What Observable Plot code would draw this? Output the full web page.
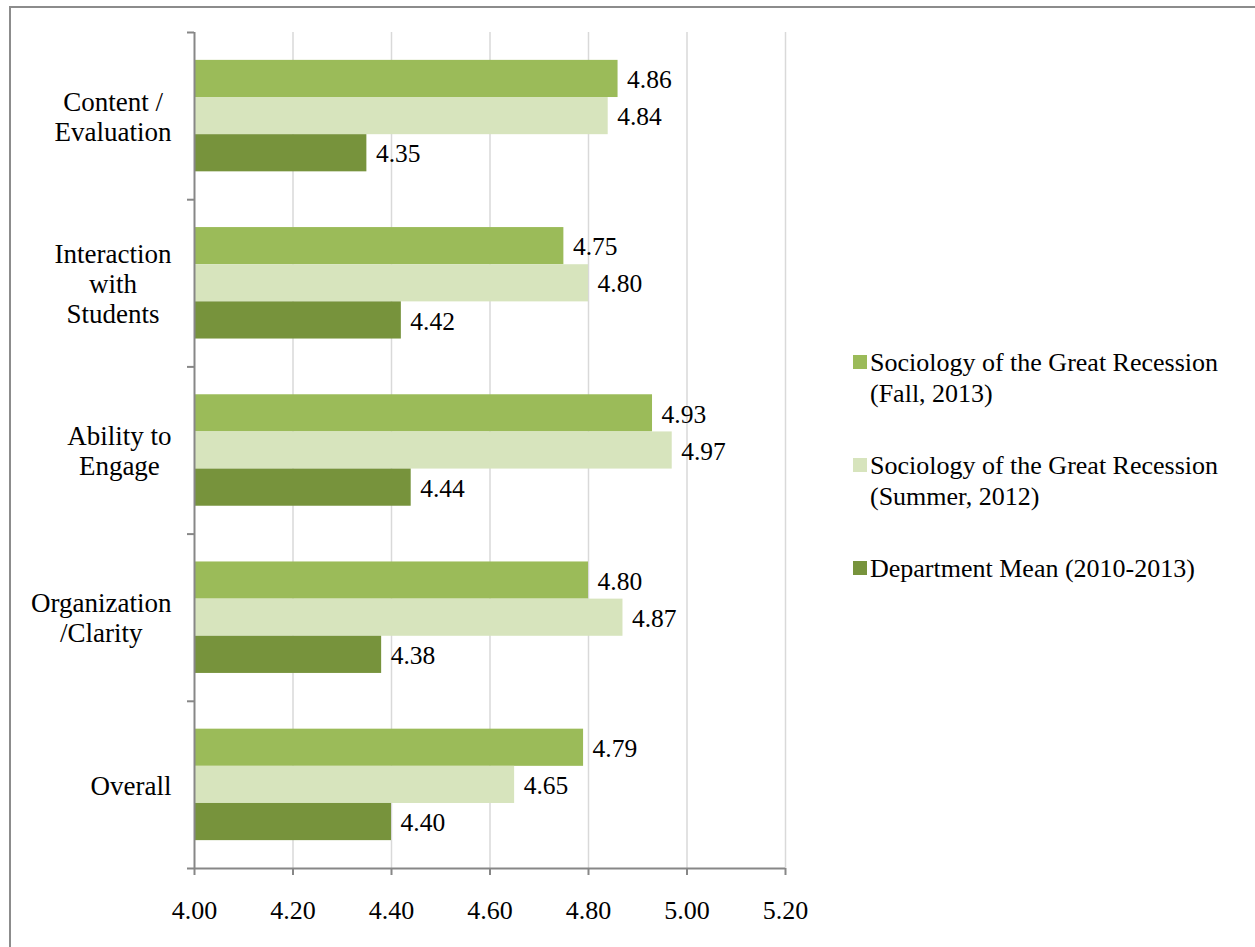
<!DOCTYPE html>
<html><head><meta charset="utf-8">
<script src="https://cdn.jsdelivr.net/npm/d3@7"></script>
<script src="https://cdn.jsdelivr.net/npm/@observablehq/plot@0.6"></script>
<style>
html,body{margin:0;padding:0;background:#fff;overflow:hidden}
#wrap{position:relative;width:1255px;height:947px;overflow:hidden;font-family:"Liberation Serif","Times New Roman",serif;}
#border{position:absolute;left:9px;top:6px;width:1400px;height:1100px;border:2px solid #8c8c8c;box-sizing:border-box}
#chart{position:absolute;left:0;top:0}
#legend{position:absolute;left:853px;top:347px;width:390px;}
.item{display:flex;align-items:flex-start;font-size:26px;line-height:31px;color:#000;margin-bottom:41px}
.sw{width:14px;height:14px;flex:none;margin-top:8px;margin-right:3px}
</style></head>
<body><div id="wrap"><div id="border"></div><div id="chart"></div><div id="legend"></div></div>
<script>
// ---- data ----
const categories = ["Content / Evaluation", "Interaction with Students", "Ability to Engage", "Organization /Clarity", "Overall"];
const categoryLines = [["Content /", "Evaluation"], ["Interaction", "with", "Students"], ["Ability to", "Engage"], ["Organization", "/Clarity"], ["Overall"]];
const seriesNames = ["Sociology of the Great Recession (Fall, 2013)", "Sociology of the Great Recession (Summer, 2012)", "Department Mean (2010-2013)"];
const seriesColors = ["#9bbb59", "#d7e4bd", "#77933c"];
const fall2013 = [4.86, 4.75, 4.93, 4.80, 4.79];
const summer2012 = [4.84, 4.80, 4.97, 4.87, 4.65];
const deptMean = [4.35, 4.42, 4.44, 4.38, 4.40];
const xTicks = [4.00, 4.20, 4.40, 4.60, 4.80, 5.00, 5.20];

// ---- layout of grouped bars inside each category band (band units) ----
const padOuter = 0.75; // outer gap of each group, in bar-heights
const nS = seriesNames.length;
const barUnit = 1 / (nS + 2 * padOuter);
const seriesValues = [fall2013, summer2012, deptMean];
const rows = categories.flatMap((c, i) => seriesNames.map((s, j) => ({
  category: c, series: s, value: seriesValues[j][i],
  y1: i + (padOuter + j) * barUnit, y2: i + (padOuter + j + 1) * barUnit
})));
const xDomain = [xTicks[0], xTicks[xTicks.length - 1]];
const bandEdges = d3.range(0, categories.length + 1);

// ---- style ----
const fontFamily = '"Liberation Serif", "Times New Roman", serif';
const axisColor = "#878787";
const gridColor = "#d9d9d9";
const catFont = 27, catLineH = 30, labelGap = 23;

const ctx = document.createElement("canvas").getContext("2d");
ctx.font = `${catFont}px "Liberation Serif"`;
const catLabelMarks = categoryLines.map((lines, i) => {
  const w = Math.max(...lines.map(l => ctx.measureText(l).width));
  return Plot.text([{label: lines.join("\n"), pos: i + 0.5}], {
    x: () => xDomain[0], y: "pos", text: "label", textAnchor: "middle",
    dx: -(labelGap + w / 2), fontSize: catFont, lineHeight: catLineH / catFont, fill: "#000"
  });
});

const chart = Plot.plot({
  width: 1255, height: 947,
  marginLeft: 194, marginRight: 470, marginTop: 32, marginBottom: 79,
  style: {fontFamily, fontSize: "26px", background: "transparent", color: "#000", overflow: "visible"},
  x: {domain: xDomain, axis: null},
  y: {domain: [0, categories.length], reverse: true, axis: null},
  color: {domain: seriesNames, range: seriesColors},
  marks: [
    Plot.ruleX(xTicks.slice(1), {stroke: gridColor, strokeWidth: 1.5}),
    Plot.rectX(rows, {x1: xDomain[0], x2: "value", y1: "y1", y2: "y2", fill: "series"}),
    Plot.text(rows, {x: "value", y: d => (d.y1 + d.y2) / 2, text: d => d.value.toFixed(2), dx: 9, dy: 1, textAnchor: "start", fontSize: 25.5, fill: "#000"}),
    Plot.ruleX([xDomain[0]], {stroke: axisColor, strokeWidth: 2}),
    Plot.ruleY([categories.length], {stroke: axisColor, strokeWidth: 2}),
    Plot.axisY(bandEdges, {tickSize: 7, tickFormat: () => "", stroke: axisColor, strokeWidth: 2, label: null}),
    ...catLabelMarks,
    Plot.axisX(xTicks, {tickFormat: d3.format(".2f"), tickSize: 7, tickPadding: 25, fontSize: 26, stroke: axisColor, strokeWidth: 2, label: null})
  ]
});
document.getElementById("chart").appendChild(chart);

// ---- legend ----
const legend = d3.select("#legend");
seriesNames.forEach((s, i) => {
  const it = legend.append("div").attr("class", "item");
  it.append("div").attr("class", "sw").style("background", seriesColors[i]);
  it.append("div").text(s);
});
</script>
</body></html>
